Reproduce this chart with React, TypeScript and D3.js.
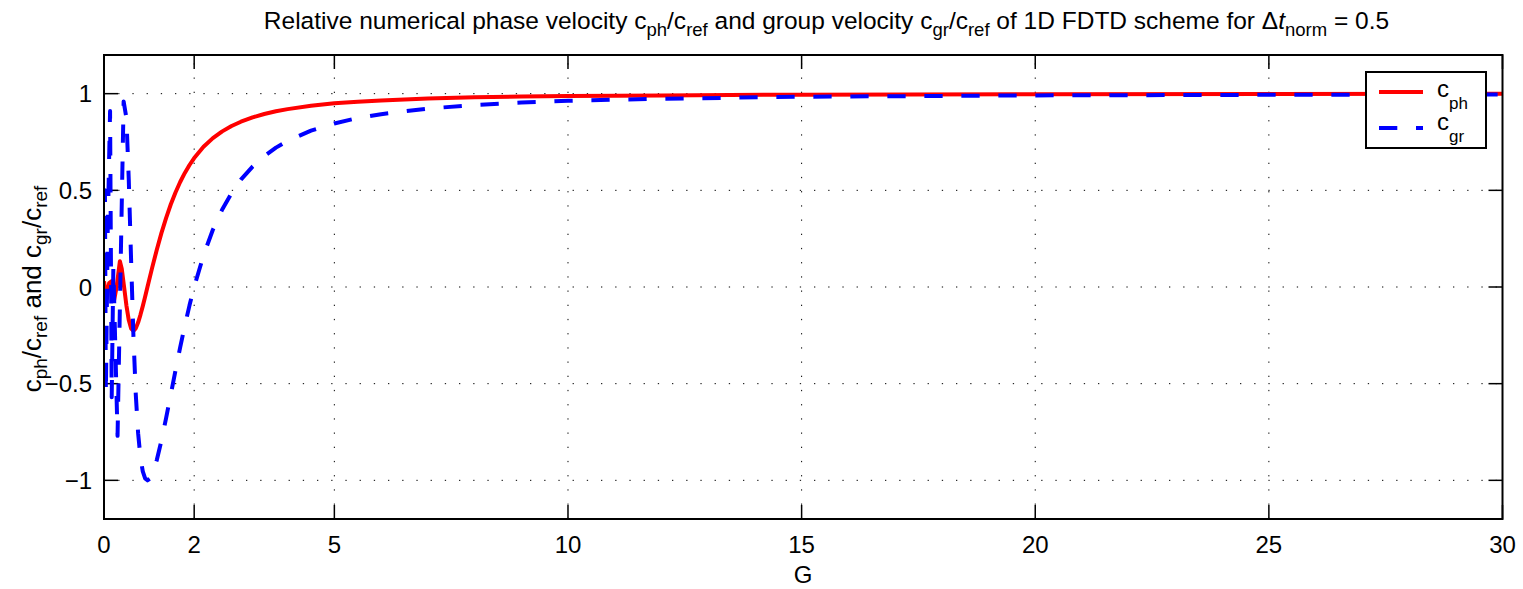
import React from 'react';
import * as d3 from 'd3';

// ---- data ----
const G_PH = [0.07, 0.13, 0.18, 0.235, 0.285, 0.34, 0.41, 0.45, 0.5, 0.55, 0.6, 0.65, 0.7, 0.75, 0.8, 0.85, 0.9, 0.95, 1.0, 1.1, 1.2, 1.3, 1.4, 1.5, 1.6, 1.7, 1.8, 1.9, 2.0, 2.2, 2.4, 2.6, 2.8, 3.0, 3.25, 3.5, 3.75, 4, 4.5, 5, 5.5, 6, 7, 8, 9, 10, 12, 15, 20, 25, 30];
const C_PH = [0.03, -0.06, 0.02, 0.03, -0.07, 0.0, 0.133, 0.094, 0.0, -0.096, -0.171, -0.215, -0.227, -0.214, -0.184, -0.144, -0.099, -0.05, 0.0, 0.099, 0.193, 0.28, 0.358, 0.428, 0.489, 0.543, 0.59, 0.631, 0.667, 0.725, 0.77, 0.805, 0.833, 0.855, 0.877, 0.895, 0.909, 0.92, 0.937, 0.95, 0.958, 0.965, 0.975, 0.981, 0.985, 0.988, 0.991, 0.995, 0.997, 0.998, 0.999];

const G_GR = [0.07, 0.09, 0.11, 0.15, 0.2, 0.235, 0.27, 0.36, 0.49, 0.55, 0.6, 0.65, 0.7, 0.75, 0.8, 0.85, 0.9, 0.95, 1.0, 1.05, 1.1, 1.2, 1.3, 1.4, 1.5, 1.6, 1.7, 1.8, 1.9, 2.0, 2.2, 2.4, 2.6, 2.8, 3.0, 3.25, 3.5, 3.75, 4, 4.5, 5, 5.5, 6, 7, 8, 9, 10, 12, 15, 20, 25, 30];
const C_GR = [-0.3, 0.5, -0.55, 0.3, 0.91, -0.57, 0.1, -0.77, 0.96, 0.874, 0.555, 0.139, -0.255, -0.555, -0.756, -0.881, -0.954, -0.99, -1.0, -0.992, -0.969, -0.895, -0.793, -0.677, -0.555, -0.432, -0.312, -0.2, -0.095, 0.0, 0.164, 0.296, 0.401, 0.486, 0.555, 0.623, 0.677, 0.721, 0.756, 0.809, 0.846, 0.874, 0.894, 0.923, 0.941, 0.954, 0.963, 0.974, 0.984, 0.991, 0.994, 0.996];

const X_TICKS = [0.07, 2, 5, 10, 15, 20, 25, 30];
const X_TICK_LABELS = ['0', '2', '5', '10', '15', '20', '25', '30'];
const Y_TICKS = [-1, -0.5, 0, 0.5, 1];
const Y_TICK_LABELS = ['\u22121', '\u22120.5', '0', '0.5', '1'];

const FONT = '"Liberation Sans", Arial, Helvetica, sans-serif';

export default function App() {
  const W = 1523, H = 589;
  const L = 104, R = 1502.5, T = 55, B = 519;
  const x = d3.scaleLinear().domain([0.07, 30]).range([L, R]);
  const y = d3.scaleLinear().domain([-1.2, 1.2]).range([B, T]);

  const line = d3.line<[number, number]>().x(d => x(d[0])).y(d => y(d[1]));
  const phPath = line(G_PH.map((g, i) => [g, C_PH[i]] as [number, number])) || '';
  const grPath = line(G_GR.map((g, i) => [g, C_GR[i]] as [number, number])) || '';

  const tickLen = 14;
  const gridDash = '1.3,12.9';
  const tFs = 24.5, tSub = 18.5, tDy = 7;
  const yFs = 26, ySub = 19, yDy = 6;
  const tickFs = 24;

  return (
    <svg width={W} height={H} style={{ position: 'absolute', left: 0, top: 0, background: '#fff' }} fontFamily={FONT}>
      <rect x={0} y={0} width={W} height={H} fill="#fff" />
      <defs>
        <clipPath id="plotclip">
          <rect x={L} y={T} width={R - L} height={B - T} />
        </clipPath>
      </defs>
      {/* grid */}
      {X_TICKS.filter((_, i) => i > 0 && i < X_TICKS.length - 1).map((t, i) => (
        <line key={'gx' + i} x1={x(t)} x2={x(t)} y1={B} y2={T} stroke="#000" strokeWidth={1} strokeDasharray={gridDash} />
      ))}
      {Y_TICKS.map((t, i) => (
        <line key={'gy' + i} x1={L} x2={R} y1={y(t)} y2={y(t)} stroke="#000" strokeWidth={1} strokeDasharray={gridDash} />
      ))}
      {/* ticks */}
      {X_TICKS.map((t, i) => (
        <g key={'xt' + i}>
          <line x1={x(t)} x2={x(t)} y1={B} y2={B - tickLen} stroke="#000" strokeWidth={1.5} />
          <line x1={x(t)} x2={x(t)} y1={T} y2={T + tickLen} stroke="#000" strokeWidth={1.5} />
          <text x={x(t)} y={553} fontSize={tickFs} textAnchor="middle" fill="#000">{X_TICK_LABELS[i]}</text>
        </g>
      ))}
      {Y_TICKS.map((t, i) => (
        <g key={'yt' + i}>
          <line x1={L} x2={L + tickLen} y1={y(t)} y2={y(t)} stroke="#000" strokeWidth={1.5} />
          <line x1={R} x2={R - tickLen} y1={y(t)} y2={y(t)} stroke="#000" strokeWidth={1.5} />
          <text x={92} y={y(t) + 8.5} fontSize={tickFs} textAnchor="end" fill="#000">{Y_TICK_LABELS[i]}</text>
        </g>
      ))}
      {/* curves */}
      <g clipPath="url(#plotclip)">
        <path d={phPath} fill="none" stroke="#ff0000" strokeWidth={4} strokeLinejoin="round" />
        <path d={grPath} fill="none" stroke="#0000ff" strokeWidth={4} strokeDasharray="18.3,18.7" strokeLinejoin="round" />
      </g>
      {/* axes box */}
      <rect x={L} y={T} width={R - L} height={B - T} fill="none" stroke="#000" strokeWidth={2} />

      {/* title */}
      <text x={826.5} y={29} fontSize={tFs} textAnchor="middle" fill="#000">
        <tspan>Relative numerical phase velocity c</tspan>
        <tspan dy={tDy} fontSize={tSub}>ph</tspan>
        <tspan dy={-tDy}>/c</tspan>
        <tspan dy={tDy} fontSize={tSub}>ref</tspan>
        <tspan dy={-tDy}> and group velocity c</tspan>
        <tspan dy={tDy} fontSize={tSub}>gr</tspan>
        <tspan dy={-tDy}>/c</tspan>
        <tspan dy={tDy} fontSize={tSub}>ref</tspan>
        <tspan dy={-tDy}> of 1D FDTD scheme for Δ</tspan>
        <tspan fontStyle="italic">t</tspan>
        <tspan dy={tDy} fontSize={tSub}>norm</tspan>
        <tspan dy={-tDy}> = 0.5</tspan>
      </text>

      {/* x label */}
      <text x={803} y={583} fontSize={tickFs} textAnchor="middle" fill="#000">G</text>

      {/* y label */}
      <text transform="translate(41,289) rotate(-90)" fontSize={yFs} textAnchor="middle" fill="#000">
        <tspan>c</tspan>
        <tspan dy={yDy} fontSize={ySub}>ph</tspan>
        <tspan dy={-yDy}>/c</tspan>
        <tspan dy={yDy} fontSize={ySub}>ref</tspan>
        <tspan dy={-yDy}> and c</tspan>
        <tspan dy={yDy} fontSize={ySub}>gr</tspan>
        <tspan dy={-yDy}>/c</tspan>
        <tspan dy={yDy} fontSize={ySub}>ref</tspan>
      </text>

      {/* legend */}
      <rect x={1366} y={72} width={120} height={76} fill="#fff" stroke="#000" strokeWidth={2} />
      <line x1={1379} x2={1423} y1={92} y2={92} stroke="#ff0000" strokeWidth={4} />
      <line x1={1379} x2={1423} y1={128} y2={128} stroke="#0000ff" strokeWidth={4} strokeDasharray="18.3,18.7" />
      <text x={1437} y={97} fontSize={24} fill="#000">
        <tspan>c</tspan>
        <tspan dy={12} fontSize={17}>ph</tspan>
      </text>
      <text x={1437} y={130} fontSize={24} fill="#000">
        <tspan>c</tspan>
        <tspan dy={12} fontSize={17}>gr</tspan>
      </text>
    </svg>
  );
}
